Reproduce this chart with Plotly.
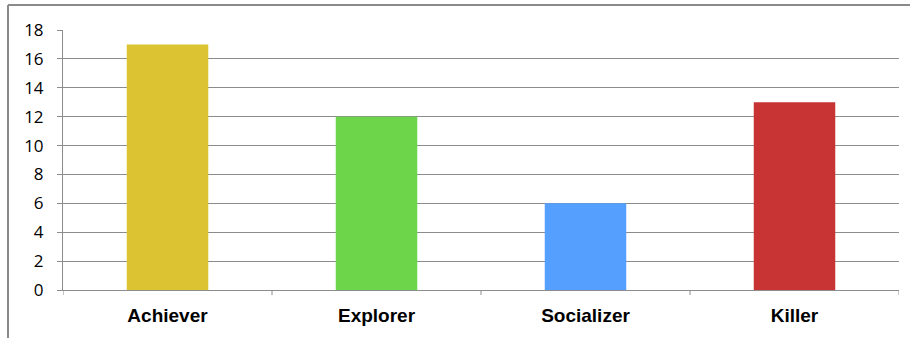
import plotly.graph_objects as go

categories = ["Achiever", "Explorer", "Socializer", "Killer"]
values = [17, 12, 6, 13]
colors = ["#DCC331", "#6CD54A", "#559FFF", "#C83333"]
y_ticks = [0, 2, 4, 6, 8, 10, 12, 14, 16, 18]

W, H = 910, 338
ml, mr, mt, mb = 63, 11, 30, 48

fig = go.Figure()
fig.add_trace(go.Bar(
    x=categories, y=values, marker=dict(color=colors, line=dict(width=0)),
    width=0.39, showlegend=False,
))

pw = W - ml - mr
ph = H - mt - mb
def px_x(p):
    return (p - ml) / pw
def px_y(p):
    return (H - mb - p) / ph

fig.update_layout(
    width=W, height=H,
    margin=dict(l=ml, r=mr, t=mt, b=mb),
    paper_bgcolor="white", plot_bgcolor="white",
    xaxis=dict(
        range=[-0.5, 3.5], showgrid=False, showline=True, linecolor="#8c8c8c", linewidth=1,
        ticks="", tickfont=dict(family="Liberation Sans", size=19, color="black"),
        tickprefix="<b>", ticksuffix="</b>", ticklabelstandoff=8,
    ),
    yaxis=dict(
        range=[0, 18], tickvals=y_ticks, showgrid=True, gridcolor="#8c8c8c", gridwidth=1,
        showline=True, linecolor="#8c8c8c", linewidth=1, ticks="outside", ticklen=5,
        tickcolor="#8c8c8c", tickfont=dict(family="Open Sans", size=17, color="black"),
        zeroline=False, ticklabelstandoff=10,
    ),
    shapes=[
        *[dict(type="line", xref="x", yref="paper", x0=b, x1=b, y0=0, y1=-5 / ph,
               line=dict(color="#8c8c8c", width=1)) for b in [-0.5, 0.5, 1.5, 2.5, 3.5]],
        dict(type="line", xref="paper", yref="paper", x0=px_x(8), x1=px_x(910),
             y0=px_y(5), y1=px_y(5), line=dict(color="#8a8a8a", width=2)),
        dict(type="line", xref="paper", yref="paper", x0=px_x(8), x1=px_x(8),
             y0=px_y(5), y1=px_y(338), line=dict(color="#8a8a8a", width=2)),
    ],
)

fig.write_html("out.html")
